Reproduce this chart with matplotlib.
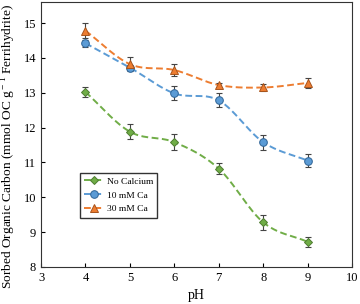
import matplotlib
matplotlib.use("Agg")
import matplotlib.pyplot as plt
import numpy as np

plt.rcParams["font.family"] = ["Liberation Serif", "DejaVu Serif"]
plt.rcParams["mathtext.fontset"] = "custom"
plt.rcParams["mathtext.rm"] = "Liberation Serif"

ph = [4, 5, 6, 7, 8, 9]
no_ca = [13.02, 11.88, 11.58, 10.82, 9.28, 8.72]
no_ca_err = [0.13, 0.22, 0.23, 0.16, 0.22, 0.15]
ca10 = [14.42, 13.72, 12.98, 12.78, 11.58, 11.05]
ca10_err = [0.10, 0.07, 0.20, 0.20, 0.22, 0.18]
ca30 = [14.78, 13.82, 13.65, 13.22, 13.15, 13.28]
ca30_err = [0.22, 0.20, 0.18, 0.07, 0.10, 0.15]

SERIES = [
    ("No Calcium", no_ca, no_ca_err, "#70ad47", "#4e7d31", "D", 4.5),
    ("10 mM Ca", ca10, ca10_err, "#5b9bd5", "#2f6496", "o", 5.5),
    ("30 mM Ca", ca30, ca30_err, "#ed7d31", "#a8541c", "^", 5.5),
]


def smooth(xs, ys, n=30):
    # Catmull-Rom style curve through the points (like a spreadsheet smoothed line)
    x = np.asarray(xs, float)
    y = np.asarray(ys, float)
    px = np.concatenate([[2 * x[0] - x[1]], x, [2 * x[-1] - x[-2]]])
    py = np.concatenate([[2 * y[0] - y[1]], y, [2 * y[-1] - y[-2]]])
    out_x, out_y = [], []
    t = np.linspace(0, 1, n)
    for i in range(1, len(px) - 2):
        for arr, store in ((px, out_x), (py, out_y)):
            a, b, c, d = arr[i - 1], arr[i], arr[i + 1], arr[i + 2]
            store.extend(0.5 * (2 * b + (-a + c) * t + (2 * a - 5 * b + 4 * c - d) * t ** 2
                                + (-a + 3 * b - 3 * c + d) * t ** 3))
    return out_x, out_y


fig = plt.figure(figsize=(3.6, 3.04), dpi=100)
ax = fig.add_axes([0.114, 0.122, 0.864, 0.871])

for label, vals, err, color, edge, marker, ms in SERIES:
    sx, sy = smooth(ph, vals)
    ax.plot(sx, sy, color=color, lw=1.4, ls=(0, (3.5, 1.8)), zorder=2)
    ax.errorbar(ph, vals, yerr=err, fmt="none", ecolor="#444444", elinewidth=0.8,
                capsize=2, capthick=0.8, zorder=3)
    ax.plot(ph, vals, ls="none", marker=marker, ms=ms, mfc=color, mec=edge, mew=0.7, zorder=4)
    ax.plot([], [], color=color, lw=1.4, ls=(0, (3.5, 1.8)), marker=marker, ms=ms,
            mfc=color, mec=edge, mew=0.7, label=label)

ax.set_xlim(3, 10)
ax.set_ylim(8, 15.6)
ax.set_xticks(range(3, 11))
ax.set_yticks(range(8, 16))
ax.tick_params(direction="in", labelsize=9, length=3, width=0.8)
for s in ax.spines.values():
    s.set_linewidth(0.8)
    s.set_color("#333333")

ax.set_xlabel("pH", fontsize=10, labelpad=4)
fig.text(0.024, 0.52, r"Sorbed Organic Carbon (mmol OC g$^{\rm -1}$ Ferrihydrite)",
         rotation=90, ha="center", va="center", fontsize=9.6)

ax.legend(loc="upper left", bbox_to_anchor=(0.125, 0.355), fontsize=6.8, frameon=True,
          fancybox=False, edgecolor="#333333", handlelength=2.0, borderpad=0.45,
          labelspacing=0.55, handletextpad=0.4, borderaxespad=0, framealpha=1)

fig.savefig("out.png", dpi=100)
